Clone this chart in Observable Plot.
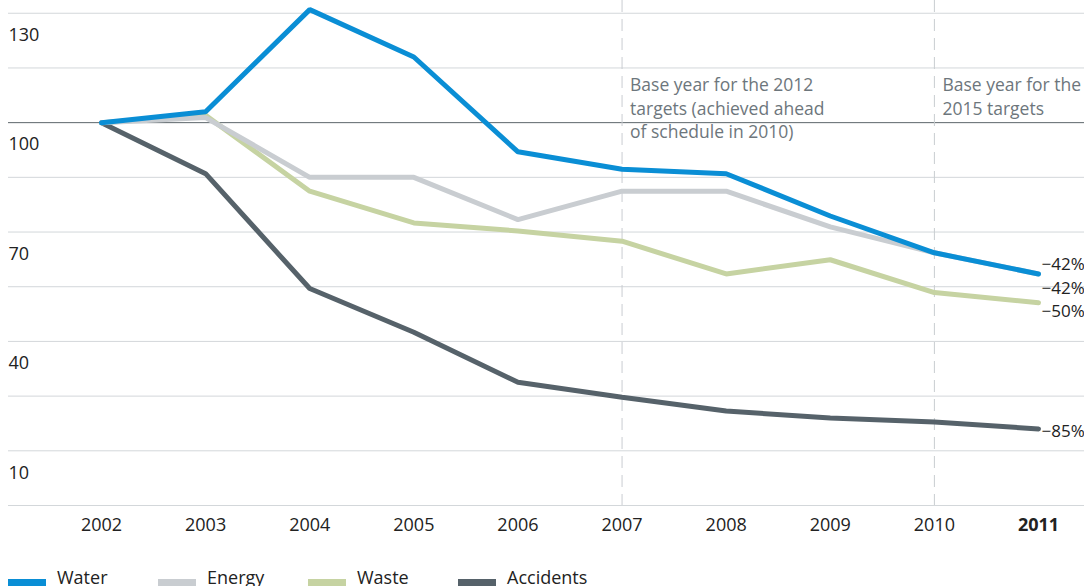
<!DOCTYPE html>
<html>
<head>
<meta charset="utf-8">
<script src="https://cdn.jsdelivr.net/npm/d3@7"></script>
<script src="https://cdn.jsdelivr.net/npm/@observablehq/plot@0.6"></script>
<style>
  body { margin: 0; background: #fff; font-family: 'Open Sans', sans-serif; }
  #chart svg { display: block; }
  #legend { position: relative; height: 36px; width: 1084px; }
  .item { position: absolute; top: 0; height: 36px; }
  .sw { position: absolute; top: 29px; width: 38px; height: 8px; }
  .lbl { position: absolute; left: 49px; top: 17px; font-size: 18px; line-height: 20px; color: #222; white-space: nowrap; }
</style>
</head>
<body>
<div id="chart"></div>
<div id="legend"></div>
<script>
const years = [2002, 2003, 2004, 2005, 2006, 2007, 2008, 2009, 2010, 2011];
const water = [100, 103, 131, 118, 92, 87.2, 86, 74.4, 64.3, 58.5];
const energy = [100, 101.4, 85, 85, 73.4, 81.2, 81.2, 71.4, 64.3, 58.5];
const waste = [100, 102, 81.2, 72.5, 70.3, 67.5, 58.5, 62.4, 53.4, 50.6];
const accidents = [100, 86, 54.5, 42.5, 28.8, 24.7, 20.9, 19, 17.9, 16];
const seriesNames = ["Water", "Energy", "Waste", "Accidents"];
const seriesColors = ["#0a8ed5", "#c9cdd1", "#c6d3a2", "#56626a"];
const gridValues = [130, 115, 85, 70, 55, 40, 25, 10, -5];
const baseValue = 100;
const yTickLabels = [130, 100, 70, 40, 10];
const endLabels = ["\u221242%", "\u221242%", "\u221250%", "\u221285%"];
const markerYears = [2007, 2010];
const note2012 = "Base year for the 2012\ntargets (achieved ahead\nof schedule in 2010)";
const note2015 = "Base year for the\n2015 targets";

const toRows = (vals, name) => years.map((yr, i) => ({year: yr, value: vals[i], series: name}));
const rows = {
  Water: toRows(water, "Water"),
  Energy: toRows(energy, "Energy"),
  Waste: toRows(waste, "Waste"),
  Accidents: toRows(accidents, "Accidents")
};
const color = name => seriesColors[seriesNames.indexOf(name)];
const last = arr => [arr[arr.length - 1]];

const chart = Plot.plot({
  width: 1084,
  height: 550,
  marginTop: 0,
  marginBottom: 45,
  marginLeft: 8,
  marginRight: 0,
  style: {fontFamily: "'Open Sans', sans-serif", fontSize: "16px", background: "#fff"},
  x: {type: "linear", domain: [2001.1067, 2011.4418], axis: null},
  y: {domain: [-5, 133.5], axis: null},
  marks: [
    Plot.ruleY(gridValues, {stroke: "#d3d7da", strokeWidth: 1}),
    Plot.ruleY([baseValue], {stroke: "#5d666b", strokeWidth: 1}),
    Plot.ruleX(markerYears, {stroke: "#c9cdd1", strokeWidth: 1, strokeDasharray: "12,7"}),
    Plot.text(yTickLabels, {y: d => d, frameAnchor: "left", textAnchor: "start", dy: 22, text: d => String(d), fill: "#222", fontSize: 18}),
    Plot.text(years.filter(y => y !== 2011), {x: d => d, frameAnchor: "bottom", dy: 25, text: d => String(d), fill: "#222", fontSize: 18}),
    Plot.text([2011], {x: d => d, frameAnchor: "bottom", dy: 25, text: d => String(d), fill: "#222", fontSize: 18, fontWeight: "bold"}),
    Plot.text([markerYears[0]], {x: d => d, frameAnchor: "top", dy: 74, dx: 8, lineAnchor: "top", lineHeight: 1.34, textAnchor: "start", text: () => note2012, fill: "#6d767c", fontSize: 17.5}),
    Plot.text([markerYears[1]], {x: d => d, frameAnchor: "top", dy: 74, dx: 8, lineAnchor: "top", lineHeight: 1.34, textAnchor: "start", text: () => note2015, fill: "#6d767c", fontSize: 17.5}),
    Plot.line(rows.Accidents, {x: "year", y: "value", stroke: color("Accidents"), strokeWidth: 5, strokeLinejoin: "miter"}),
    Plot.line(rows.Waste, {x: "year", y: "value", stroke: color("Waste"), strokeWidth: 5, strokeLinejoin: "miter"}),
    Plot.line(rows.Energy, {x: "year", y: "value", stroke: color("Energy"), strokeWidth: 5, strokeLinejoin: "miter"}),
    Plot.line(rows.Water, {x: "year", y: "value", stroke: color("Water"), strokeWidth: 5, strokeLinejoin: "miter"}),
    Plot.text(last(rows.Water), {x: "year", y: "value", dx: 3, dy: -9, textAnchor: "start", text: () => endLabels[0], fill: "#222", fontSize: 17}),
    Plot.text(last(rows.Energy), {x: "year", y: "value", dx: 3, dy: 15, textAnchor: "start", text: () => endLabels[1], fill: "#222", fontSize: 17}),
    Plot.text(last(rows.Waste), {x: "year", y: "value", dx: 3, dy: 9, textAnchor: "start", text: () => endLabels[2], fill: "#222", fontSize: 17}),
    Plot.text(last(rows.Accidents), {x: "year", y: "value", dx: 3, dy: 3, textAnchor: "start", text: () => endLabels[3], fill: "#222", fontSize: 17})
  ]
});
document.getElementById("chart").appendChild(chart);

const legend = document.getElementById("legend");
seriesNames.forEach((name, i) => {
  const item = document.createElement("div");
  item.className = "item";
  item.style.left = (8 + i * 150) + "px";
  const sw = document.createElement("div");
  sw.className = "sw";
  sw.style.background = seriesColors[i];
  const lbl = document.createElement("div");
  lbl.className = "lbl";
  lbl.textContent = name;
  item.appendChild(sw);
  item.appendChild(lbl);
  legend.appendChild(item);
});
</script>
</body>
</html>
